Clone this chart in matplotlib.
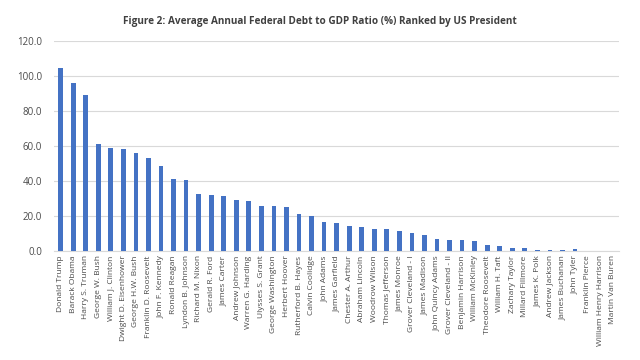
import matplotlib
matplotlib.use('Agg')
import matplotlib.pyplot as plt

presidents = [
    'Donald Trump', 'Barack Obama', 'Harry S. Truman', 'George W. Bush',
    'William J. Clinton', 'Dwight D. Eisenhower', 'George H.W. Bush',
    'Franklin D. Roosevelt', 'John F. Kennedy', 'Ronald Reagan',
    'Lyndon B. Johnson', 'Richard M. Nixon', 'Gerald R. Ford', 'James Carter',
    'Andrew Johnson', 'Warren G. Harding', 'Ulysses S. Grant',
    'George Washington', 'Herbert Hoover', 'Rutherford B. Hayes',
    'Calvin Coolidge', 'John Adams', 'James Garfield', 'Chester A. Arthur',
    'Abraham Lincoln', 'Woodrow Wilson', 'Thomas Jefferson', 'James Monroe',
    'Grover Cleveland - I', 'James Madison', 'John Quincy Adams',
    'Grover Cleveland - II', 'Benjamin Harrison', 'William McKinley',
    'Theodore Roosevelt', 'William H. Taft', 'Zachary Taylor',
    'Millard Fillmore', 'James K. Polk', 'Andrew Jackson', 'James Buchanan',
    'John Tyler', 'Franklin Pierce', 'William Henry Harrison',
    'Martin Van Buren',
]
debt_ratio = [
    104.6, 96.0, 89.1, 61.1, 59.2, 58.3, 56.2, 53.2, 48.7, 41.1,
    40.6, 33.0, 32.1, 31.5, 29.1, 28.5, 26.0, 26.0, 25.1, 21.5,
    20.0, 17.0, 16.1, 14.2, 13.6, 13.0, 12.5, 11.5, 10.4, 9.1,
    7.0, 6.4, 6.4, 5.8, 3.4, 2.8, 1.9, 1.9, 1.0, 0.9,
    0.9, 1.1, 0.4, 0.4, 0.1,
]

plt.rcParams['font.family'] = ['Open Sans', 'DejaVu Sans']
grey = '#4a4a4a'

fig = plt.figure(figsize=(6.4, 3.6), dpi=100)
ax = fig.add_axes([0.085, 0.302, 0.882, 0.583])

ax.bar(range(len(presidents)), debt_ratio, width=0.38, color='#4472C4', zorder=3)

ax.set_xlim(-0.5, len(presidents) - 0.5)
ax.set_ylim(0, 120)
ax.set_yticks(range(0, 121, 20))
ax.set_yticklabels([f'{v:.1f}' for v in range(0, 121, 20)], fontsize=7, color=grey)
ax.set_xticks(range(len(presidents)))
ax.set_xticklabels(presidents, rotation=90, fontsize=6, color=grey)
ax.tick_params(axis='x', length=0, pad=3)
ax.tick_params(axis='y', length=0, pad=9)
ax.grid(axis='y', color='#D9D9D9', linewidth=0.8, zorder=0)
for side in ['top', 'right', 'left']:
    ax.spines[side].set_visible(False)
ax.spines['bottom'].set_color('#D9D9D9')

fig.text(0.5, 0.939, 'Figure 2: Average Annual Federal Debt to GDP Ratio (%) Ranked by US President',
         ha='center', va='center', fontsize=7.2, fontweight='bold', color='#404040')

fig.savefig('out.png', dpi=100)
